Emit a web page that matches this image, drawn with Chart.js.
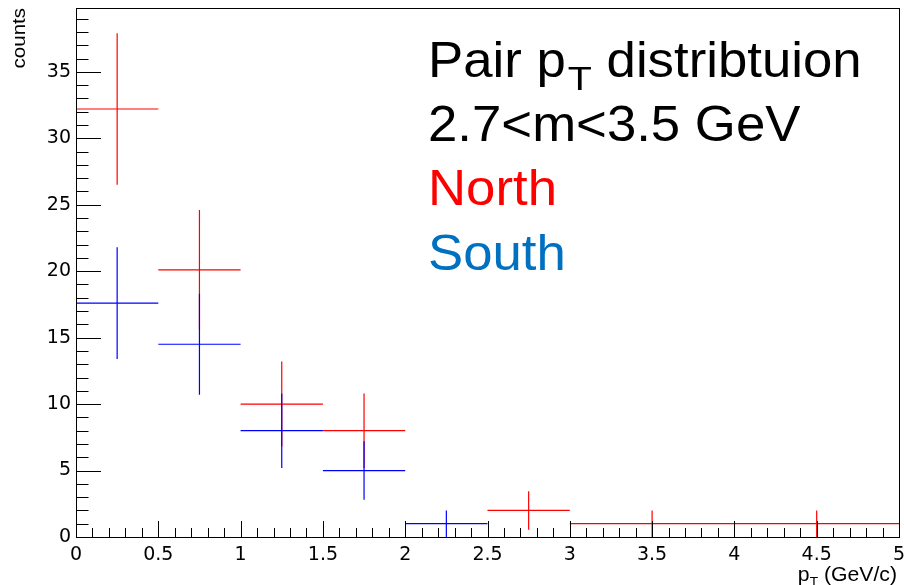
<!DOCTYPE html>
<html>
<head>
<meta charset="utf-8">
<script src="https://cdn.jsdelivr.net/npm/chart.js@4.4.0/dist/chart.umd.min.js"></script>
<style>
html, body { margin: 0; padding: 0; background: #fff; }
#wrap { width: 904px; height: 585px; }
</style>
</head>
<body>
<div id="wrap"><canvas id="ptChart"></canvas></div>
<script>
// pair pT histogram, bin edges (GeV/c)
const binLow  = [0, 0.5, 1, 1.5, 2, 2.5, 3, 4];
const binHigh = [0.5, 1, 1.5, 2, 2.5, 3, 4, 5];

// counts and errors per bin
const northCounts = [32.2, 20.1, 10, 8, 0, 2, 1, 1];
const northErrors = [5.7, 4.5, 3.2, 2.8, 0, 1.45, 1, 1];
const southCounts = [17.6, 14.5, 8, 5, 1, 0, 0, 0];
const southErrors = [4.2, 3.8, 2.8, 2.2, 1, 0, 0, 0];

const xTicks = [0, 0.5, 1, 1.5, 2, 2.5, 3, 3.5, 4, 4.5, 5];
const yTicks = [0, 5, 10, 15, 20, 25, 30, 35];

const FONT = "'Liberation Sans', Arial, sans-serif";
const TICK_FONT = "'DejaVu Sans', sans-serif";

// horizontal bin-width lines, broken with null points between bins
function binLines(counts) {
    const pts = [];
    for (let i = 0; i < counts.length; i++) {
        if (counts[i] === 0) continue;
        pts.push({x: binLow[i], y: counts[i]});
        pts.push({x: binHigh[i], y: counts[i]});
        pts.push({x: binHigh[i], y: null});
    }
    return pts;
}

// vertical error bars at bin centres
function errorLines(counts, errors) {
    const pts = [];
    for (let i = 0; i < counts.length; i++) {
        if (counts[i] === 0) continue;
        const mid = (binLow[i] + binHigh[i]) / 2;
        pts.push({x: mid, y: counts[i] - errors[i]});
        pts.push({x: mid, y: counts[i] + errors[i]});
        pts.push({x: mid, y: null});
    }
    return pts;
}

function seg(data, color) {
    return {
        data: data,
        borderColor: color,
        borderWidth: 1.2,
        pointRadius: 0,
        showLine: true,
        spanGaps: false,
        tension: 0
    };
}

// text stretched a little sideways, ROOT fonts run wider than Liberation
function wideText(ctx, str, x, y, sx) {
    ctx.save();
    ctx.translate(x, y);
    ctx.scale(sx, 1);
    ctx.fillText(str, 0, 0);
    ctx.restore();
    return ctx.measureText(str).width * sx;
}

// ROOT style frame, inward ticks, axis titles and the text block
const rootFrame = {
    id: 'rootFrame',
    afterDatasetsDraw(chart) {
        const ctx = chart.ctx;
        const a = chart.chartArea;
        const xs = chart.scales.x, ys = chart.scales.y;
        ctx.save();
        ctx.strokeStyle = '#000';
        ctx.lineWidth = 1;
        ctx.strokeRect(Math.round(a.left) + 0.5, Math.round(a.top) + 0.5,
            Math.round(a.right - a.left), Math.round(a.bottom - a.top));

        ctx.beginPath();
        for (let v = 0; v <= 39; v++) {
            const py = Math.round(ys.getPixelForValue(v)) + 0.5;
            const len = v % 5 === 0 ? 25 : 12.5;
            ctx.moveTo(a.left, py);
            ctx.lineTo(a.left + len, py);
        }
        for (let k = 0; k <= 50; k++) {
            const px = Math.round(xs.getPixelForValue(k / 10)) + 0.5;
            const len = k % 5 === 0 ? 16 : 9;
            ctx.moveTo(px, a.bottom);
            ctx.lineTo(px, a.bottom - len);
        }
        ctx.stroke();

        ctx.fillStyle = '#000';
        ctx.textAlign = 'left';
        ctx.textBaseline = 'alphabetic';

        // y title, top aligned
        ctx.save();
        ctx.translate(25, a.top);
        ctx.rotate(-Math.PI / 2);
        ctx.font = '19px ' + FONT;
        const wc = ctx.measureText('counts').width * 1.08;
        wideText(ctx, 'counts', -wc, 0, 1.08);
        ctx.restore();

        // x title: p_T (GeV/c), right aligned to frame
        const sx = 1.06;
        ctx.font = '20px ' + FONT;
        const wP = ctx.measureText('p').width * sx;
        const wRest = ctx.measureText(' (GeV/c)').width * sx;
        ctx.font = '13px ' + FONT;
        const wT = ctx.measureText('T').width * sx;
        const x0 = a.right - 2 - wRest - wT - wP;
        const by = 581;
        ctx.font = '20px ' + FONT;
        wideText(ctx, 'p', x0, by, sx);
        ctx.font = '13px ' + FONT;
        wideText(ctx, 'T', x0 + wP, by + 5, sx);
        ctx.font = '20px ' + FONT;
        wideText(ctx, ' (GeV/c)', x0 + wP + wT, by, sx);

        // annotation block
        const tx = 428, s = 1.055;
        ctx.font = '50px ' + FONT;
        let cx = tx + wideText(ctx, 'Pair p', tx, 77, s);
        ctx.font = '34px ' + FONT;
        cx += 2 + wideText(ctx, 'T', cx + 2, 90, s * 1.1);
        ctx.font = '50px ' + FONT;
        wideText(ctx, ' distribtuion', cx, 77, s);
        wideText(ctx, '2.7<m<3.5 GeV', tx, 141, s);
        ctx.fillStyle = '#ff0000';
        wideText(ctx, 'North', tx, 205, s);
        ctx.fillStyle = '#0070c0';
        wideText(ctx, 'South', tx, 270, s);
        ctx.restore();
    }
};

const ctxPt = document.getElementById('ptChart').getContext('2d');
const ptChart = new Chart(ctxPt, {
    type: 'scatter',
    data: {
        datasets: [
            seg(binLines(southCounts), '#0000ff'),
            seg(errorLines(southCounts, southErrors), '#0000ff'),
            seg(binLines(northCounts), '#ff0000'),
            seg(errorLines(northCounts, northErrors), '#ff0000')
        ]
    },
    options: {
        responsive: true,
        maintainAspectRatio: false,
        animation: false,
        layout: { padding: { top: 8, right: 5, left: 0, bottom: 0 } },
        plugins: {
            legend: { display: false },
            tooltip: { enabled: false }
        },
        scales: {
            x: {
                type: 'linear',
                min: 0,
                max: 5,
                grid: { display: false, drawTicks: false },
                border: { display: false },
                afterBuildTicks: (s) => { s.ticks = xTicks.map(v => ({value: v})); },
                afterFit: (s) => {
                    s.height = 48;
                    s.paddingLeft = 0;
                    s.paddingRight = 0;
                },
                ticks: {
                    padding: 7,
                    color: '#000',
                    maxRotation: 0,
                    autoSkip: false,
                    font: { family: TICK_FONT, size: 19 },
                    callback: (v) => String(v)
                }
            },
            y: {
                type: 'linear',
                min: 0,
                max: 39.8,
                grid: { display: false, drawTicks: false },
                border: { display: false },
                afterBuildTicks: (s) => { s.ticks = yTicks.map(v => ({value: v})); },
                afterFit: (s) => {
                    s.width = 76;
                    s.paddingTop = 0;
                    s.paddingBottom = 0;
                },
                ticks: {
                    padding: 5,
                    color: '#000',
                    autoSkip: false,
                    font: { family: TICK_FONT, size: 19 },
                    callback: (v) => String(v)
                }
            }
        }
    },
    plugins: [rootFrame]
});
</script>
</body>
</html>
